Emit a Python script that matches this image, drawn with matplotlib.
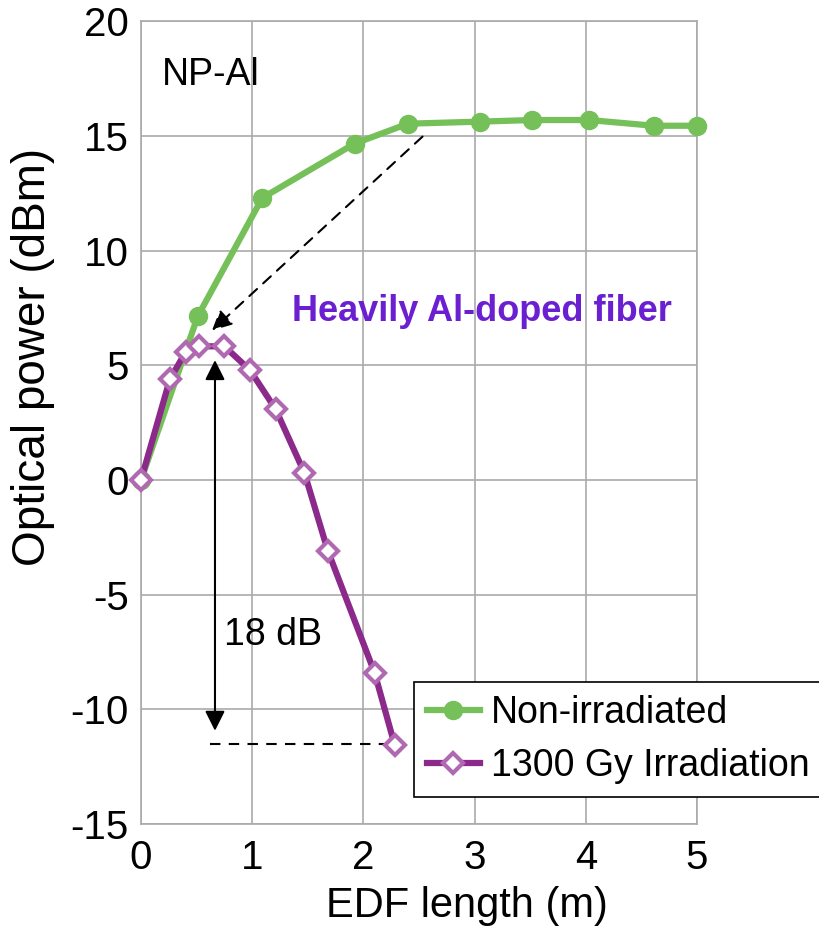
import matplotlib.pyplot as plt

plt.rcParams['font.family'] = ['Liberation Sans', 'DejaVu Sans']
plt.rcParams['axes.unicode_minus'] = False

# EDF length (m) and output power (dBm)
len_non_irr = [0.0, 0.51, 1.09, 1.92, 2.40, 3.05, 3.52, 4.03, 4.61, 5.0]
pow_non_irr = [0.0, 7.14, 12.3, 14.67, 15.54, 15.63, 15.7, 15.7, 15.45, 15.45]

len_irr = [0.0, 0.26, 0.40, 0.52, 0.75, 0.98, 1.21, 1.47, 1.68, 2.10, 2.28]
pow_irr = [0.0, 4.4, 5.57, 5.83, 5.83, 4.79, 3.09, 0.30, -3.09, -8.4, -11.54]

x_ticks = [0, 1, 2, 3, 4, 5]
y_ticks = [-15, -10, -5, 0, 5, 10, 15, 20]

green = '#76C05A'
purple = '#8B2A8B'

fig = plt.figure(figsize=(8.2, 9.32), dpi=100)
ax = fig.add_axes([0.172, 0.116, 0.678, 0.861])

ax.plot(len_non_irr, pow_non_irr, color=green, lw=4.5, marker='o', ms=13,
        label='Non-irradiated', zorder=3, clip_on=False)
ax.plot(len_irr, pow_irr, color=purple, lw=4.5, marker='D', ms=10,
        mfc='white', mec='#B068B0', mew=3, label='1300 Gy Irradiation',
        zorder=4, clip_on=False)

# annotations
ax.annotate('', xy=(0.62, 6.44), xytext=(2.55, 15.06),
            arrowprops=dict(arrowstyle='-|>', color='black', lw=1.5,
                            linestyle=(0, (5, 4)), mutation_scale=30))
ax.annotate('', xy=(0.665, 5.35), xytext=(0.665, -11.06),
            arrowprops=dict(arrowstyle='<|-|>', color='black', lw=1.5,
                            mutation_scale=30))
ax.plot([0.62, 2.24], [-11.5, -11.5], color='black', lw=1.5,
        linestyle=(0, (5, 4)), zorder=2)
ax.text(0.75, -6.75, '18 dB', fontsize=27, va='center', ha='left',
        stretch='condensed')
ax.text(3.07, 7.36, 'Heavily Al-doped fiber', fontsize=26, fontweight='bold',
        color='#6A1FD0', ha='center', va='center')
ax.text(0.19, 17.65, 'NP-Al', fontsize=27, ha='left', va='center')

ax.set_xlim(0, 5)
ax.set_ylim(-15, 20)
ax.set_xticks(x_ticks)
ax.set_yticks(y_ticks)
ax.tick_params(length=0, labelsize=29)
ax.tick_params(axis='x', pad=11)
ax.tick_params(axis='y', pad=9)
ax.grid(True, color='#AAAAAA', lw=1.2)
for s in ax.spines.values():
    s.set_color('#AAAAAA')
    s.set_linewidth(1.2)
ax.set_axisbelow(True)
ax.set_xlabel('EDF length (m)', fontsize=30)
ax.set_ylabel('Optical power (dBm)', fontsize=33)
ax.xaxis.set_label_coords(0.586, -0.078)
ax.yaxis.set_label_coords(-0.155, 0.582)

leg = ax.legend(loc='upper left', bbox_to_anchor=(0.505, 0.268),
                bbox_transform=fig.transFigure, fontsize=27, frameon=True,
                fancybox=False, framealpha=1, edgecolor='black',
                handlelength=1.4, handletextpad=0.3, borderpad=0.35,
                labelspacing=0.45, borderaxespad=0)
leg.get_frame().set_linewidth(1.2)

fig.savefig('out.png', dpi=100)
